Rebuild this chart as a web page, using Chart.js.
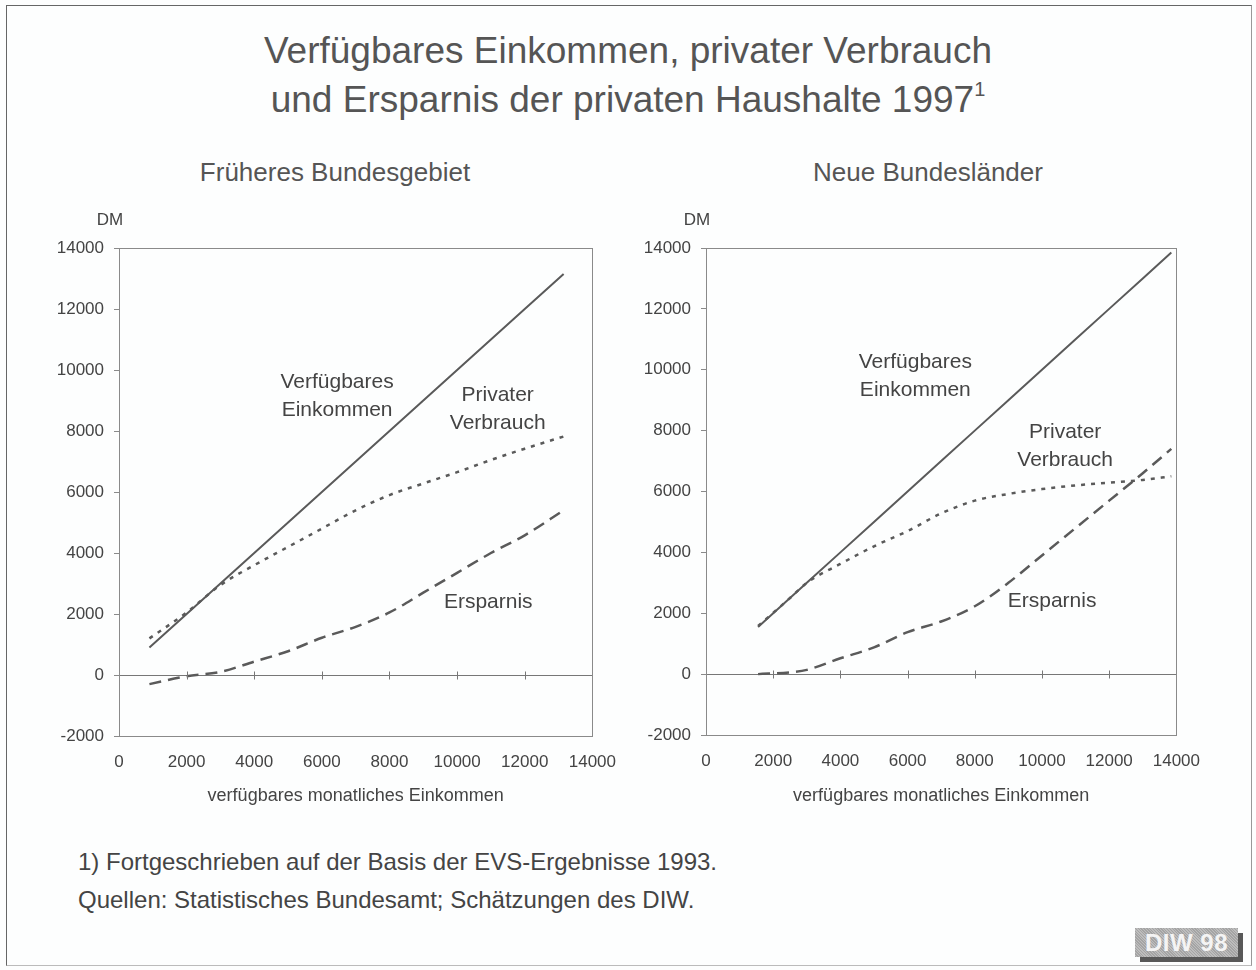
<!DOCTYPE html>
<html lang="de">
<head>
<meta charset="utf-8">
<title>Verfügbares Einkommen, privater Verbrauch und Ersparnis 1997</title>
<script src="https://cdn.jsdelivr.net/npm/chart.js@4.4.1/dist/chart.umd.min.js"></script>
<style>
  body { margin: 0; background: #fdfefe; font-family: "Liberation Sans", Arial, sans-serif; color: #4a4a4a; }
  #seite { position: relative; width: 1256px; height: 970px; overflow: hidden; }
  #rahmen { position: absolute; left: 6px; top: 5px; width: 1244px; height: 959px; border: 1.5px solid #666; border-right-color: #999; border-bottom-color: #bbb; }
  #titel { position: absolute; left: 0; top: 26px; width: 1256px; text-align: center; font-size: 37px; line-height: 49px; color: #555; }
  #titel sup { font-size: 20px; vertical-align: 16px; line-height: 0; }
  .unter { position: absolute; top: 157px; width: 500px; text-align: center; font-size: 26px; line-height: 30px; color: #555; }
  canvas { position: absolute; top: 200px; }
  .fuss { position: absolute; left: 78px; font-size: 24px; line-height: 28px; color: #444; }
  #diw { position: absolute; left: 1135px; top: 928px; width: 103px; height: 29px; line-height: 29px; text-align: center;
         font-size: 24px; font-weight: bold; color: #f4f4f4; letter-spacing: 0.5px;
         background: repeating-linear-gradient(45deg, #a4a4a4 0 1px, #bdbdbd 1px 2px);
         box-shadow: 5px 5px 0 #585858; }
</style>
</head>
<body>
<div id="seite">
  <div id="rahmen"></div>
  <div id="titel">Verfügbares Einkommen, privater Verbrauch<br>und Ersparnis der privaten Haushalte 1997<sup>1</sup></div>
  <div class="unter" style="left:85px">Früheres Bundesgebiet</div>
  <div class="unter" style="left:678px">Neue Bundesländer</div>
  <canvas id="west" width="602" height="620" style="left:30px"></canvas>
  <canvas id="ost" width="584" height="620" style="left:632px"></canvas>
  <div class="fuss" style="top:848px">1) Fortgeschrieben auf der Basis der EVS-Ergebnisse 1993.</div>
  <div class="fuss" style="top:886px">Quellen: Statistisches Bundesamt; Schätzungen des DIW.</div>
  <div id="diw">DIW 98</div>
</div>
<script>
// --- Daten (DM) ---
const achseTicks = [-2000, 0, 2000, 4000, 6000, 8000, 10000, 12000, 14000];

// Früheres Bundesgebiet
const westX         = [900, 2000, 3000, 4000, 5000, 6000, 7000, 8000, 9000, 10000, 11000, 12000, 13150];
const westEinkommen = [900, 2000, 3000, 4000, 5000, 6000, 7000, 8000, 9000, 10000, 11000, 12000, 13150];
const westVerbrauch = [1200, 2050, 2950, 3600, 4200, 4800, 5400, 5900, 6280, 6650, 7050, 7420, 7820];
const westErsparnis = [-300, -40, 100, 440, 780, 1220, 1580, 2050, 2700, 3350, 4000, 4580, 5400];

// Neue Bundesländer
const ostX         = [1550, 2500, 3000, 4000, 5000, 6000, 7000, 8000, 9000, 10000, 11000, 12000, 13000, 13850];
const ostEinkommen = [1550, 2500, 3000, 4000, 5000, 6000, 7000, 8000, 9000, 10000, 11000, 12000, 13000, 13850];
const ostVerbrauch = [1580, 2500, 3000, 3620, 4200, 4700, 5280, 5700, 5920, 6080, 6200, 6290, 6380, 6500];
const ostErsparnis = [0, 60, 140, 520, 880, 1380, 1730, 2230, 3000, 3900, 4800, 5700, 6600, 7400];

// Beschriftungen im Diagramm (Lage in Achsenwerten)
const westTexte = [
  { text: ["Verfügbares", "Einkommen"], x: 6450, y: 9150 },
  { text: ["Privater", "Verbrauch"], x: 11200, y: 8700 },
  { text: ["Ersparnis"], x: 10920, y: 2400 },
];
const ostTexte = [
  { text: ["Verfügbares", "Einkommen"], x: 6230, y: 9790 },
  { text: ["Privater", "Verbrauch"], x: 10690, y: 7500 },
  { text: ["Ersparnis"], x: 10300, y: 2380 },
];

const SCHRIFT = '"Liberation Sans", Arial, sans-serif';
const GRAU = "#5a5a5a";

// Rahmen, Nulllinien-Striche, "DM" und Texte
const rahmenPlugin = {
  id: "rahmen",
  afterDraw(chart, args, opts) {
    const { ctx, chartArea: a, scales: { x, y } } = chart;
    ctx.save();
    ctx.strokeStyle = "#8a8a8a";
    ctx.lineWidth = 1;
    ctx.strokeRect(Math.round(a.left) + 0.5, Math.round(a.top) + 0.5, Math.round(a.width), Math.round(a.height));

    const y0 = Math.round(y.getPixelForValue(0)) + 0.5;
    ctx.strokeStyle = "#777";
    x.ticks.forEach(t => {
      if (t.value > x.min && t.value < x.max) {
        const px = Math.round(x.getPixelForValue(t.value)) + 0.5;
        ctx.beginPath();
        ctx.moveTo(px, y0 - 4);
        ctx.lineTo(px, y0 + 4);
        ctx.stroke();
      }
    });

    ctx.fillStyle = "#444";
    ctx.textAlign = "center";
    ctx.textBaseline = "middle";
    ctx.font = "17px " + SCHRIFT;
    ctx.fillText("DM", a.left - 9, a.top - 28);

    ctx.font = "21px " + SCHRIFT;
    opts.texte.forEach(b => {
      const cx = x.getPixelForValue(b.x);
      const cy = y.getPixelForValue(b.y);
      const n = b.text.length;
      b.text.forEach((t, i) => ctx.fillText(t, cx, cy + (i - (n - 1) / 2) * 28));
    });
    ctx.restore();
  }
};

function paare(xs, ys) {
  return xs.map((v, i) => ({ x: v, y: ys[i] }));
}

function zeichne(id, xs, einkommen, verbrauch, ersparnis, texte, yBreite, unten) {
  new Chart(document.getElementById(id), {
    type: "line",
    data: {
      datasets: [
        {
          label: "Verfügbares Einkommen",
          data: paare(xs, einkommen),
          borderColor: GRAU,
          borderWidth: 2,
          tension: 0,
          pointRadius: 0,
        },
        {
          label: "Privater Verbrauch",
          data: paare(xs, verbrauch),
          borderColor: GRAU,
          borderWidth: 2.5,
          borderDash: [4, 6],
          cubicInterpolationMode: "monotone",
          pointRadius: 0,
        },
        {
          label: "Ersparnis",
          data: paare(xs, ersparnis),
          borderColor: GRAU,
          borderWidth: 2.5,
          borderDash: [12, 7],
          cubicInterpolationMode: "monotone",
          pointRadius: 0,
        },
      ],
    },
    options: {
      responsive: false,
      animation: false,
      layout: { padding: { top: 48, right: 0, left: 0, bottom: 0 } },
      plugins: {
        legend: { display: false },
        tooltip: { enabled: false },
        rahmen: { texte },
      },
      scales: {
        x: {
          type: "linear",
          min: 0,
          max: 14000,
          afterFit: s => { s.height = unten; },
          ticks: {
            stepSize: 2000, padding: 16, color: "#444", maxRotation: 0,
            font: { family: SCHRIFT, size: 17 },
            callback: v => String(v),
          },
          grid: { display: true, drawOnChartArea: false, drawTicks: false },
          border: { display: true, color: "#8a8a8a" },
          title: {
            display: true,
            text: "verfügbares monatliches Einkommen",
            color: "#444",
            font: { family: SCHRIFT, size: 18 },
            padding: { top: 4, bottom: 13 },
          },
        },
        y: {
          min: -2000,
          max: 14000,
          afterFit: s => { s.width = yBreite; },
          afterBuildTicks: s => { s.ticks = achseTicks.map(v => ({ value: v })); },
          ticks: { padding: 10, color: "#444", font: { family: SCHRIFT, size: 17 }, callback: v => String(v) },
          grid: {
            drawOnChartArea: true,
            tickLength: 5,
            color: c => (c.tick && c.tick.value === 0 ? "#777" : "rgba(0,0,0,0)"),
            tickColor: "#8a8a8a",
          },
          border: { display: true, color: "#8a8a8a" },
        },
      },
    },
    plugins: [rahmenPlugin],
  });
}

zeichne("west", westX, westEinkommen, westVerbrauch, westErsparnis, westTexte, 89, 84);
zeichne("ost", ostX, ostEinkommen, ostVerbrauch, ostErsparnis, ostTexte, 74, 85);
</script>
</body>
</html>
